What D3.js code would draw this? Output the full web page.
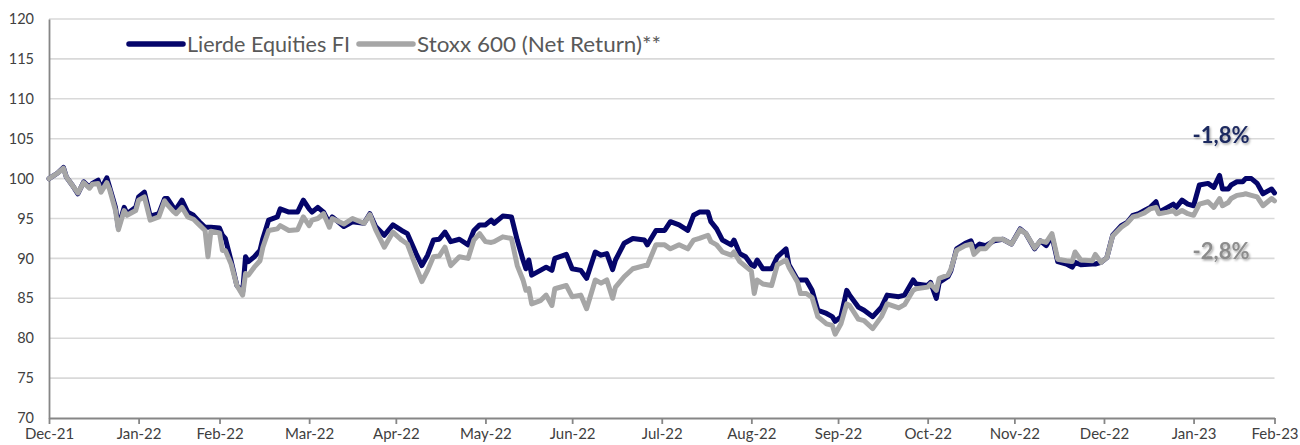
<!DOCTYPE html>
<html>
<head>
<meta charset="utf-8">
<script src="https://cdn.jsdelivr.net/npm/d3@7"></script>
<style>
  html, body { margin: 0; padding: 0; background: #fff; }
  svg { display: block; font-family: Lato, "Open Sans", sans-serif; }
</style>
</head>
<body>
<div id="chart"></div>
<script>
"use strict";

// data (index base 100 at Dec-21)
var dates = [
  "2021-12-31","2022-01-03","2022-01-05","2022-01-06","2022-01-08","2022-01-10","2022-01-12","2022-01-14","2022-01-15","2022-01-17",
  "2022-01-18","2022-01-20","2022-01-21","2022-01-23","2022-01-24","2022-01-26","2022-01-27","2022-01-30","2022-01-31","2022-02-02",
  "2022-02-04","2022-02-07","2022-02-09","2022-02-10","2022-02-12","2022-02-13","2022-02-15","2022-02-17","2022-02-19","2022-02-21",
  "2022-02-23","2022-02-24","2022-02-25","2022-02-28","2022-03-01","2022-03-02","2022-03-04","2022-03-06","2022-03-08","2022-03-09",
  "2022-03-10","2022-03-12","2022-03-14","2022-03-15","2022-03-17","2022-03-20","2022-03-21","2022-03-24","2022-03-27","2022-03-29",
  "2022-03-31","2022-04-01","2022-04-03","2022-04-05","2022-04-07","2022-04-08","2022-04-12","2022-04-15","2022-04-19","2022-04-21",
  "2022-04-23","2022-04-26","2022-04-29","2022-05-02","2022-05-04","2022-05-07","2022-05-09","2022-05-11","2022-05-13","2022-05-15",
  "2022-05-17","2022-05-19","2022-05-22","2022-05-25","2022-05-27","2022-05-29","2022-05-31","2022-06-02","2022-06-03","2022-06-06",
  "2022-06-09","2022-06-11","2022-06-13","2022-06-14","2022-06-15","2022-06-16","2022-06-19","2022-06-21","2022-06-23","2022-06-24",
  "2022-06-28","2022-06-30","2022-07-03","2022-07-05","2022-07-08","2022-07-10","2022-07-12","2022-07-14","2022-07-15","2022-07-18",
  "2022-07-21","2022-07-25","2022-07-26","2022-07-29","2022-08-01","2022-08-03","2022-08-06","2022-08-09","2022-08-11","2022-08-13",
  "2022-08-16","2022-08-17","2022-08-19","2022-08-21","2022-08-24","2022-08-25","2022-08-27","2022-08-29","2022-08-31","2022-09-01",
  "2022-09-02","2022-09-04","2022-09-07","2022-09-09","2022-09-12","2022-09-13","2022-09-16","2022-09-17","2022-09-19","2022-09-21",
  "2022-09-23","2022-09-26","2022-09-28","2022-09-29","2022-10-01","2022-10-03","2022-10-04","2022-10-07","2022-10-09","2022-10-12",
  "2022-10-15","2022-10-17","2022-10-21","2022-10-23","2022-10-26","2022-10-27","2022-10-31","2022-11-01","2022-11-03","2022-11-04",
  "2022-11-07","2022-11-08","2022-11-10","2022-11-13","2022-11-15","2022-11-16","2022-11-18","2022-11-20","2022-11-23","2022-11-26",
  "2022-11-29","2022-12-02","2022-12-04","2022-12-07","2022-12-09","2022-12-11","2022-12-13","2022-12-15","2022-12-18","2022-12-20",
  "2022-12-21","2022-12-23","2022-12-27","2022-12-28","2022-12-30","2023-01-01","2023-01-03","2023-01-06","2023-01-08","2023-01-10",
  "2023-01-12","2023-01-14","2023-01-16","2023-01-18","2023-01-19","2023-01-22","2023-01-24","2023-01-25","2023-01-27","2023-01-29",
  "2023-01-31","2023-02-02","2023-02-05","2023-02-07","2023-02-09","2023-02-10","2023-02-12","2023-02-13","2023-02-15","2023-02-17",
  "2023-02-18","2023-02-20","2023-02-22","2023-02-24","2023-02-27","2023-02-28"
];

var lierde = [
  100.0,100.7,101.4,100.2,99.2,98.1,99.6,98.9,99.4,99.8,
  98.7,100.1,98.9,96.4,93.9,96.4,95.6,96.4,97.7,98.3,
  95.3,95.6,97.5,97.5,96.4,96.2,97.3,95.8,95.4,94.6,
  93.9,93.9,93.9,93.8,92.9,92.5,89.7,86.6,85.8,90.2,
  89.6,90.2,91.0,92.5,94.8,95.2,96.2,95.8,95.8,97.3,
  96.2,95.8,96.4,95.8,94.4,95.2,94.0,94.6,94.4,95.6,
  94.0,92.9,94.2,93.5,93.1,90.6,89.1,90.4,92.3,92.4,
  93.3,92.1,92.4,91.7,93.5,94.2,94.2,94.8,94.4,95.3,
  95.2,92.3,89.8,88.7,89.8,87.9,88.5,88.9,88.5,90.0,
  90.5,88.7,88.5,87.5,90.8,90.4,90.6,88.6,89.8,91.9,
  92.5,92.3,91.7,93.5,93.5,94.6,94.2,93.5,95.4,95.8,
  95.8,94.6,93.7,92.3,91.7,92.3,90.6,90.2,89.2,89.0,
  89.8,88.7,88.7,90.2,91.2,89.2,87.3,87.3,87.3,86.0,
  83.5,83.1,82.7,82.1,82.7,86.0,85.4,83.9,83.5,82.7,
  83.9,85.4,85.2,85.4,87.3,86.8,86.6,87.0,85.0,87.0,
  87.7,88.4,91.2,91.9,92.2,91.2,91.8,91.6,92.2,92.4,
  91.8,93.7,93.1,91.2,92.2,91.6,92.8,89.6,89.3,88.9,
  89.5,89.2,89.3,89.3,89.5,90.1,92.9,94.1,94.5,95.4,
  95.6,96.0,96.4,97.1,95.8,96.4,96.8,96.4,97.3,96.8,
  96.6,99.2,99.4,98.9,100.4,98.7,98.7,99.2,99.6,99.6,
  100.0,100.0,99.4,98.1,98.7,98.2
];

var stoxx = [
  100.0,100.7,101.3,100.2,99.2,98.2,99.5,98.8,99.3,99.4,
  98.3,99.5,98.6,96.0,93.6,96.0,95.4,96.0,97.3,97.7,
  94.8,95.2,97.2,96.7,95.9,95.6,96.4,95.2,94.9,94.2,
  93.5,90.2,93.4,93.2,91.0,91.0,89.3,86.6,85.4,88.1,
  87.9,88.9,89.7,91.4,93.5,93.7,94.1,93.5,93.6,95.2,
  94.1,94.8,95.0,95.6,93.9,95.0,94.3,95.0,94.4,95.5,
  93.6,91.4,93.3,92.3,91.8,88.9,87.1,88.5,90.2,90.3,
  91.4,89.1,90.2,90.0,92.3,93.1,92.1,92.0,92.1,92.7,
  92.5,89.1,87.3,86.0,86.2,84.3,84.7,85.4,84.1,86.2,
  86.6,85.2,85.4,83.7,87.3,86.9,87.3,85.0,86.4,87.7,
  88.7,89.1,89.1,91.7,91.7,91.2,91.7,91.2,92.3,92.5,
  92.9,92.1,91.7,90.8,90.4,90.8,89.6,89.0,88.4,85.6,
  87.3,86.8,86.6,89.2,89.8,88.9,87.0,85.6,85.6,85.1,
  82.7,81.8,81.6,80.5,81.8,84.3,84.1,82.4,82.2,81.2,
  82.7,84.3,83.8,84.2,86.0,86.2,86.4,86.8,86.0,87.5,
  87.9,88.6,91.0,91.6,91.8,90.5,91.2,91.2,92.4,92.4,
  91.8,93.6,93.1,91.3,92.2,92.0,93.1,89.9,89.7,89.6,
  90.8,89.8,89.7,90.5,89.5,90.1,92.8,93.9,94.4,95.2,
  95.4,95.7,96.2,96.4,95.6,95.8,96.0,95.6,96.0,95.6,
  95.4,96.8,97.1,96.4,97.5,96.6,97.0,97.5,97.9,98.0,
  98.1,97.9,97.7,96.6,97.5,97.2
];

var seriesNames = ["Lierde Equities FI", "Stoxx 600 (Net Return)**"];
var endLabels = ["-1,8%", "-2,8%"];
var yTicks = [70, 75, 80, 85, 90, 95, 100, 105, 110, 115, 120];
var monthEnds = ["2021-12-31","2022-01-31","2022-02-28","2022-03-31","2022-04-30","2022-05-31","2022-06-30",
                 "2022-07-31","2022-08-31","2022-09-30","2022-10-31","2022-11-30","2022-12-31","2023-01-31","2023-02-28"];

var App = App || {};

(function() {

    App.start = function()
        {
            var svg_dx = 1300,
                svg_dy = 445,
                left = 49, right = 1274.5, top = 19, bottom = 418;

            var navy = "#05056a",
                grey = "#a6a6a6";

            var parse = d3.timeParse("%Y-%m-%d"),
                fmt = d3.timeFormat("%b-%y");

            var rows = dates.map(function(d, i) {
                return {date: parse(d), a: lierde[i], b: stoxx[i]};
            });

            var x = d3.scaleTime()
                    .domain([parse(monthEnds[0]), parse(monthEnds[monthEnds.length - 1])])
                    .range([left, right]),
                y = d3.scaleLinear().domain([70, 120]).range([bottom, top]);

            var svg = d3.select("#chart")
                    .append("svg")
                    .attr("width", svg_dx)
                    .attr("height", svg_dy);

            var defs = svg.append("defs");
            defs.append("filter")
                .attr("id", "shadow")
                .attr("x", "-20%").attr("y", "-30%")
                .attr("width", "140%").attr("height", "160%")
                .append("feDropShadow")
                .attr("dx", 1.2).attr("dy", 1.5)
                .attr("stdDeviation", 1)
                .attr("flood-color", "#000")
                .attr("flood-opacity", 0.35);

            // horizontal grid
            svg.append("g")
                .selectAll("line")
                .data(yTicks.slice(1))
                .enter()
                .append("line")
                .attr("x1", left).attr("x2", right)
                .attr("y1", function(d) { return y(d); })
                .attr("y2", function(d) { return y(d); })
                .attr("stroke", "#d9d9d9")
                .attr("stroke-width", 1.6);

            // y axis, labels only
            var axis_y = d3.axisLeft(y).tickValues(yTicks).tickSize(0).tickPadding(15);
            var gy = svg.append("g")
                .attr("transform", "translate(" + left + ",0)")
                .call(axis_y);
            gy.select(".domain").attr("stroke", "#868686").attr("stroke-width", 1.8);
            gy.selectAll("text")
                .attr("font-family", "Lato")
                .attr("font-size", 14.5)
                .attr("fill", "#404040");

            // x axis
            var axis_x = d3.axisBottom(x)
                .tickValues(monthEnds.map(parse))
                .tickFormat(fmt)
                .tickSizeInner(6)
                .tickSizeOuter(0)
                .tickPadding(4);
            var gx = svg.append("g")
                .attr("transform", "translate(0," + bottom + ")")
                .call(axis_x);
            gx.select(".domain").attr("stroke", "#868686").attr("stroke-width", 2);
            gx.selectAll(".tick line").attr("stroke", "#868686").attr("stroke-width", 1.8);
            gx.selectAll("text")
                .attr("font-family", "Lato")
                .attr("font-size", 15)
                .attr("fill", "#404040");

            var lineA = d3.line()
                    .x(function(d) { return x(d.date); })
                    .y(function(d) { return y(d.a); }),
                lineB = d3.line()
                    .x(function(d) { return x(d.date); })
                    .y(function(d) { return y(d.b); });

            svg.append("path")
                .datum(rows)
                .attr("d", lineA)
                .attr("fill", "none")
                .attr("stroke", navy)
                .attr("stroke-width", 5)
                .attr("stroke-linejoin", "round")
                .attr("stroke-linecap", "round");

            svg.append("path")
                .datum(rows)
                .attr("d", lineB)
                .attr("fill", "none")
                .attr("stroke", grey)
                .attr("stroke-width", 5)
                .attr("stroke-linejoin", "round")
                .attr("stroke-linecap", "round");

            // legend
            var legend = svg.append("g").attr("transform", "translate(0,44)");
            var items = [
                {name: seriesNames[0], color: navy, x0: 129, x1: 183, w: 163},
                {name: seriesNames[1], color: grey, x0: 359, x1: 413, w: 244}
            ];
            items.forEach(function(it) {
                legend.append("line")
                    .attr("x1", it.x0).attr("x2", it.x1)
                    .attr("y1", 0).attr("y2", 0)
                    .attr("stroke", it.color)
                    .attr("stroke-width", 5.5)
                    .attr("stroke-linecap", "round");
                legend.append("text")
                    .attr("x", it.x1 + 4)
                    .attr("y", 7.5)
                    .attr("font-family", "Lato")
                    .attr("font-size", 21)
                    .attr("textLength", it.w)
                    .attr("lengthAdjust", "spacingAndGlyphs")
                    .attr("fill", "#595959")
                    .text(it.name);
            });

            // end labels
            svg.append("text")
                .attr("x", 1221).attr("y", 143)
                .attr("text-anchor", "middle")
                .attr("font-family", "Lato")
                .attr("font-weight", "bold")
                .attr("font-size", 22)
                .attr("fill", "#1f2a60")
                .attr("filter", "url(#shadow)")
                .text(endLabels[0]);
            svg.append("text")
                .attr("x", 1221).attr("y", 259)
                .attr("text-anchor", "middle")
                .attr("font-family", "Lato")
                .attr("font-weight", "bold")
                .attr("font-size", 22)
                .attr("fill", "#8c8c8c")
                .attr("filter", "url(#shadow)")
                .text(endLabels[1]);
        }
})();

App.start();
</script>
</body>
</html>
